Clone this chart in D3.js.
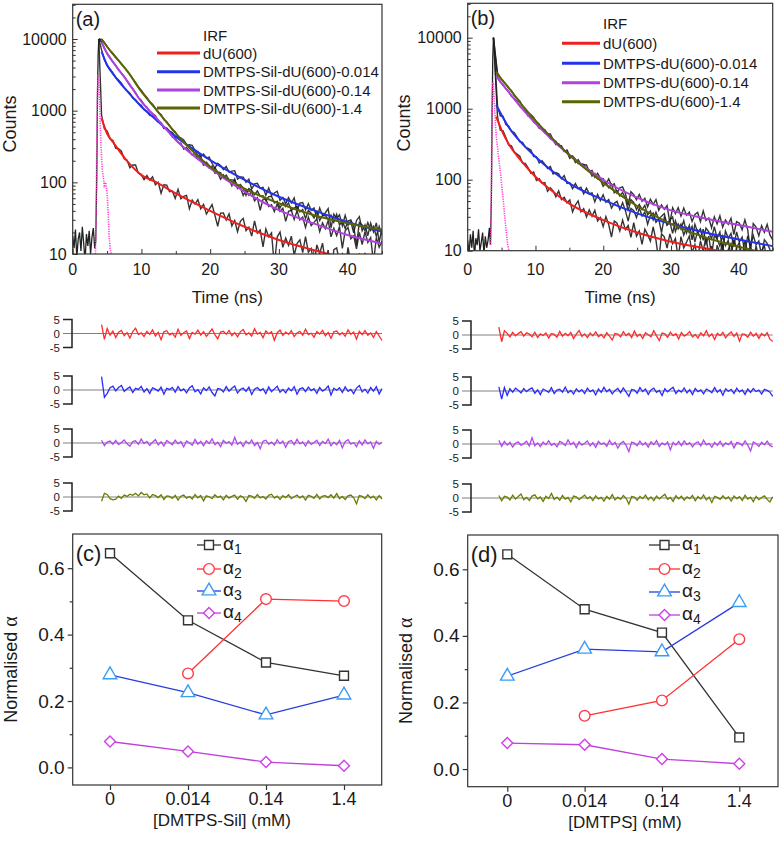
<!DOCTYPE html>
<html><head><meta charset="utf-8">
<script src="https://cdn.jsdelivr.net/npm/d3@7"></script>
<style>
body{margin:0;background:#fff}
text{font-family:'Liberation Sans',Arial,sans-serif;fill:#1a1a1a}
</style></head>
<body><svg id="fig" width="784" height="842"></svg>
<script>
// ---------------- DATA ----------------
const fitTimes = [4.2,5,6,8,10,12,15,20,25,30,35,40,45];
// panel (a) fitted decays (counts)
const fitA_dU    = [780,480,350,194,126,102,70,40,24,15.7,11.4,8.6,6.8];
const fitA_S0014 = [6650,4340,3140,1840,1135,766,434,204,108,63,41,28,20.5];
const fitA_S014  = [9000,6300,4570,2540,1334,824,390,157,74,41,26.8,18.4,14];
const fitA_S14   = [10000,7800,5980,3500,1840,1080,483,165,82,51,35,26.8,21.6];
// panel (b) fitted decays (counts)
const fitB_dU    = [771,500,324,180,110,75,46,27,18,13.4,10.8,8.8,7.4];
const fitB_D0014 = [1127,815,557,325,211,144,89,52,33.6,23.8,18,14.4,11.6];
const fitB_D014  = [2880,2275,1740,1011,621,403,223,99,56,37,28.5,23,18.5];
const fitB_D14   = [3330,2590,2000,1127,678,425,223,91,42.6,23.8,15.4,11.4,8.6];
const legendA = ["dU(600)","DMTPS-Sil-dU(600)-0.014","DMTPS-Sil-dU(600)-0.14","DMTPS-Sil-dU(600)-1.4"];
const legendB = ["dU(600)","DMTPS-dU(600)-0.014","DMTPS-dU(600)-0.14","DMTPS-dU(600)-1.4"];
// instrument response function (IRF)
const irfA_t = [3.3,3.4,3.5,3.6,3.7,3.8,3.9,4.0,4.1,4.2,4.3,4.45,4.6,4.8,5.0,5.15,5.3,5.45,5.6];
const irfA_v = [10,40,300,1800,3200,2600,1500,700,350,220,150,120,90,100,70,40,18,12,10];
const irfB_t = [3.4,3.5,3.6,3.7,3.8,3.9,4.0,4.1,4.2,4.35,4.5,4.7,4.9,5.1,5.3,5.5,5.7,5.9,6.1];
const irfB_v = [12,120,900,2400,2200,1400,900,600,420,320,230,160,110,70,45,28,18,12,10];
// baseline + rise of the measured decays before the peak
const riseTimes = [0,0.2,0.4,0.6,0.8,1.0,1.2,1.4,1.6,1.8,2.0,2.2,2.4,2.6,2.8,3.0,3.2,3.35,3.5,3.6,3.7,3.8];
const riseA = [18,12,22,9,16,20,11,24,14,8,19,13,21,10,17,23,12,15,120,1500,6000,10000];
const riseB = [14,9,17,11,19,8,15,12,20,10,13,18,9,16,11,14,21,12,60,900,5200,10000];
// weighted residuals, one per decay
const resA_dU = [3.2,-2.1,1.8,-0.6,0.9,-1.4,0.5,1.1,-0.8,0.3,-1.6,0.7,1.9,-0.4,0.2,-1.1,0.8,-0.3,1.3,-0.9,0.4,-2.2,0.6,1.0,-0.5,0.1,-1.3,1.5,-0.7,0.3,0.9,-1.8,0.4,-0.2,1.2,-0.6,0.7,-1.0,0.2,1.6,-0.4,-1.9,0.5,0.8,-0.3,1.1,-0.8,0.3,-1.2,0.6,1.4,-0.5,0.2,-0.9,1.7,-0.2,0.4,-1.5,0.9,-0.1,0.6,-2.4,0.3,1.2,-0.7,0.5,-0.3,1.0,-1.1,0.2,0.8,-0.6,1.5,-0.4,0.1,-1.3,0.7,-0.2,1.1,-0.8,0.4,-1.7,0.6,0.9,-0.5,0.3,-1.0,1.3,-0.3,0.5,-2.0,0.8,-0.4,1.0,-0.6,0.2,-1.4,0.7,-0.9,-2.5];
const resA_S0014 = [4.8,-2.6,-1.2,0.8,1.4,-0.3,0.9,1.6,-0.5,0.4,1.1,-0.9,0.6,0.2,1.3,-0.7,0.5,-1.2,0.8,0.3,-0.4,1.0,-1.5,0.6,0.2,0.9,-0.8,1.2,-0.3,0.4,-1.0,0.7,1.5,-0.6,0.1,-1.4,0.8,-0.2,1.1,-0.9,-2.1,0.5,0.3,-0.7,1.2,-0.4,0.6,1.4,-1.1,0.2,0.7,-0.5,1.0,-1.6,0.3,0.9,-0.2,0.5,-1.3,1.1,-0.6,0.4,1.3,-0.8,0.2,-1.0,0.7,-0.3,1.2,-1.5,0.4,0.8,-0.6,1.0,-0.2,0.5,-1.2,0.9,-0.4,0.3,1.4,-1.8,0.6,-0.1,0.8,-0.9,1.1,-0.5,0.2,-1.3,0.7,1.6,-0.7,0.3,-1.1,0.9,-0.4,1.2,-1.4,0.5];
const resA_S014 = [1.0,-0.9,0.3,0.7,-0.4,0.9,-0.6,0.2,1.1,-0.3,-1.2,0.5,0.8,-0.5,1.4,-0.2,0.6,-0.9,0.3,1.2,-0.7,0.4,-1.1,0.9,0.2,-0.6,1.0,-0.3,0.5,-1.4,0.7,0.1,-0.8,1.3,-0.4,0.6,-1.0,0.8,-0.2,1.5,-0.6,0.3,-1.3,0.9,-0.1,0.5,-0.8,2.0,-0.5,0.4,-1.2,0.7,-0.3,1.1,-0.9,0.2,-2.1,0.6,1.0,-0.4,0.3,-0.8,1.2,-0.2,0.7,-1.5,0.5,0.9,-0.6,1.3,-0.3,0.4,-1.1,0.8,-0.5,0.2,1.0,-0.9,0.6,-0.2,1.4,-1.0,0.3,-0.6,0.9,-1.7,0.5,1.2,-0.4,0.1,-1.3,0.8,-0.7,1.1,-0.3,0.4,-1.9,0.6,-0.5,0.3];
const resA_S14 = [-1.5,1.3,0.9,-0.6,-1.0,-0.8,0.3,-0.5,0.7,0.2,1.0,0.6,1.3,0.4,1.6,0.8,1.1,-0.3,0.9,0.5,-0.2,0.8,-0.9,0.4,0.2,-0.5,0.6,-1.1,0.3,0.7,-0.4,0.2,-0.7,0.9,-0.3,0.5,-1.4,0.4,0.1,-0.6,0.8,-0.2,0.3,-1.0,0.6,-0.4,0.2,0.7,-0.8,0.4,-0.1,-1.6,0.5,0.3,-0.5,0.9,-0.3,0.2,-0.7,0.6,1.0,-0.4,0.3,-0.9,0.5,-0.2,0.8,-0.6,0.1,0.7,-0.3,0.4,-1.1,0.6,0.2,-0.5,0.9,-0.7,0.3,0.5,-0.2,0.8,-0.4,1.2,-0.6,0.2,-0.9,0.4,0.7,-0.3,-2.4,0.5,0.2,-0.6,0.8,-0.4,0.3,-1.0,0.5,-0.7];
const resB_dU = [2.8,-2.4,1.5,0.6,-0.7,0.9,-0.3,0.5,1.2,-0.4,0.8,0.3,-0.6,1.0,-0.9,0.4,-0.2,0.7,-1.1,0.5,0.2,-0.8,1.3,-0.4,0.6,-0.2,0.9,-1.3,0.3,1.6,-0.5,0.4,-0.9,0.7,-0.3,1.1,-0.6,0.2,-1.0,0.8,-0.4,-1.8,0.5,0.3,-0.7,1.2,-0.2,0.6,-0.9,1.4,-0.5,0.3,-1.2,0.8,0.1,-0.6,1.5,-0.3,-2.0,0.7,0.4,-0.8,1.0,-0.2,0.5,-1.4,0.9,-0.4,0.3,1.2,-0.7,0.2,-1.1,0.8,-0.3,1.5,-0.6,0.4,-1.6,0.6,-0.2,0.9,-1.0,0.3,1.1,-0.5,0.7,-2.2,0.4,0.2,-0.8,1.0,-0.4,0.6,-1.2,0.5,-0.3,0.8,-1.5,-2.3];
const resB_D0014 = [1.5,-2.9,1.2,-1.6,0.8,-0.4,1.0,0.3,-0.7,0.9,-0.2,0.6,1.1,-0.8,0.4,-1.3,0.7,0.2,-0.5,1.2,-0.9,0.3,0.6,-0.4,1.4,-0.6,0.2,-1.1,0.8,-0.3,0.5,-0.9,1.0,-0.2,0.4,-1.4,0.7,-0.5,1.3,-0.3,0.6,-1.0,0.2,0.9,-0.6,1.1,-0.4,-1.9,0.5,0.3,-0.8,1.2,-0.2,0.7,-1.2,0.4,1.0,-0.5,0.2,-1.6,0.8,-0.3,0.6,1.3,-0.9,0.3,-0.4,1.1,-0.7,0.5,-1.3,0.9,-0.2,0.4,-1.0,0.7,0.2,-0.6,1.2,-0.4,0.5,-1.5,0.8,-0.1,0.6,-0.9,1.0,-0.3,0.4,-1.2,0.7,-0.5,0.9,-0.2,0.3,-1.1,0.6,0.2,-0.4,-1.9];
const resB_D014 = [1.3,-0.8,0.9,-0.4,0.6,-1.1,0.3,0.8,-0.5,0.2,1.0,-0.7,2.2,-0.6,0.4,-0.9,0.7,-0.3,1.2,-0.5,0.2,-1.0,0.9,0.4,-0.6,1.5,-0.2,0.6,-1.3,0.8,-0.4,0.3,1.1,-0.7,0.5,-1.2,0.9,-0.1,0.4,-0.8,1.3,-0.3,0.6,-1.5,0.2,0.9,-0.5,-2.7,0.7,0.3,-0.6,1.0,-0.4,0.5,-1.1,0.8,-0.2,1.2,-0.9,0.4,-0.3,0.7,-2.1,0.6,-0.4,0.9,-0.6,1.1,-0.2,0.5,-1.0,0.3,0.8,-0.7,1.4,-0.3,0.2,-1.2,0.6,-0.5,1.0,-0.8,0.4,-0.2,0.9,-1.4,0.5,0.3,-0.6,1.1,-0.4,-2.5,0.7,0.2,-0.9,0.6,-0.3,1.0,-0.5,-1.0];
const resB_D14 = [0.9,-1.0,0.6,0.3,-0.7,1.0,-0.4,0.5,1.4,-0.6,0.2,-0.9,0.7,1.1,-0.3,0.4,-1.2,0.6,-0.2,1.6,-0.5,0.3,-0.8,0.9,-0.4,0.2,-1.4,0.7,0.4,-0.6,0.3,1.0,-0.2,0.5,-0.9,0.8,-0.3,0.2,-1.1,0.6,-0.4,1.2,-0.7,0.3,-0.5,0.9,-0.1,-2.2,0.5,0.3,-0.8,0.6,-0.2,1.0,-0.6,0.4,-0.9,0.7,-0.3,0.5,1.3,-0.5,0.2,-1.2,0.8,-0.3,0.6,-0.8,0.4,-0.2,0.9,-1.0,0.5,-0.4,1.1,-0.7,0.3,-1.6,0.6,0.2,-0.5,0.8,-0.3,0.4,-1.1,0.7,-0.2,0.5,-0.9,1.0,-0.4,0.3,-1.3,0.6,-0.6,0.2,0.8,-0.5,-1.4,0.4];
// normalised amplitudes
const concCats = ["0","0.014","0.14","1.4"];
const alphaNames = ["1","2","3","4"];
const c_a1 = [0.645,0.443,0.316,0.276];
const c_a2 = [null,0.283,0.507,0.501];
const c_a3 = [0.279,0.225,0.158,0.218];
const c_a4 = [0.078,0.048,0.016,0.005];
const d_a1 = [0.645,0.480,0.410,0.095];
const d_a2 = [null,0.160,0.206,0.390];
const d_a3 = [0.279,0.360,0.352,0.500];
const d_a4 = [0.078,0.073,0.030,0.016];
const countTicks = [10,100,1000,10000];
const timeTicks = [0,10,20,30,40];
const resTicks = [5,0,-5];
const alphaTicks = [0.0,0.2,0.4,0.6];

// ---------------- STYLE ----------------
const decayCols = ["#f01e1e","#2233ee","#b040e0","#5a6400"];
const resCols   = ["#ff2a2a","#2a2aff","#b545ee","#6b7d00"];
const alphaLine = ["#333333","#ff3030","#2a3ce0","#c040dd"];
const alphaMark = ["#333333","#ff3c4c","#3c9cf0","#d040e8"];

const svg = d3.select("#fig");

function fitAt(vals, t){
  if (t <= fitTimes[0]) return vals[0];
  for (let i=1;i<fitTimes.length;i++){
    if (t <= fitTimes[i]){
      const f=(t-fitTimes[i-1])/(fitTimes[i]-fitTimes[i-1]);
      return Math.exp(Math.log(vals[i-1])*(1-f)+Math.log(vals[i])*f);
    }
  }
  return vals[vals.length-1];
}

function decayPanel(cfg){
  const g = svg.append("g");
  const x = d3.scaleLinear([0,45],[cfg.x0,cfg.x1]);
  const y = d3.scaleLog([10,30500],[cfg.y0,cfg.y1]);
  const cid = "clip"+cfg.id;
  svg.append("clipPath").attr("id",cid).append("rect")
    .attr("x",cfg.x0).attr("y",cfg.y1).attr("width",cfg.x1-cfg.x0).attr("height",cfg.y0-cfg.y1);
  const pg = g.append("g").attr("clip-path",`url(#${cid})`);
  const line = d3.line().x(d=>x(d[0])).y(d=>y(Math.max(d[1],2)));
  // measured data (black, noisy)
  pg.append("path").datum(riseTimes.map((t,i)=>[t,cfg.rise[i]]))
    .attr("d",line).attr("fill","none").attr("stroke","#222").attr("stroke-width",1.3);
  cfg.fits.forEach((vals,k)=>{
    const res = cfg.res[k];
    const t0 = cfg.resStart, n = res.length;
    const pts = [[3.8,10000]].concat(res.map((r,i)=>{
      const t = t0 + i*(45-t0)/(n-1);
      const f = fitAt(vals,t);
      return [t, f + r*Math.sqrt(f)*1.0];
    }));
    pg.append("path").datum(pts).attr("d",line).attr("fill","none")
      .attr("stroke","#1e1e1e").attr("stroke-width",1.4).attr("opacity",0.9);
  });
  // IRF
  pg.append("path").datum(cfg.irfT.map((t,i)=>[t,cfg.irfV[i]])).attr("d",line)
    .attr("fill","none").attr("stroke","#ff3fd0").attr("stroke-width",1.6).attr("stroke-dasharray","1.2,1.2");
  // fits
  const fline = d3.line().curve(d3.curveMonotoneX).x(d=>x(d[0])).y(d=>y(d[1]));
  cfg.fits.forEach((vals,k)=>{
    pg.append("path").datum(fitTimes.map((t,i)=>[t,vals[i]])).attr("d",fline)
      .attr("fill","none").attr("stroke",decayCols[k]).attr("stroke-width",2);
  });
  // frame
  g.append("rect").attr("x",cfg.x0).attr("y",cfg.y1).attr("width",cfg.x1-cfg.x0).attr("height",cfg.y0-cfg.y1)
    .attr("fill","none").attr("stroke","#333").attr("stroke-width",1.2);
  // axes (ticks inside)
  const ax = g.append("g").attr("transform",`translate(0,${cfg.y0})`)
    .call(d3.axisBottom(x).tickValues(timeTicks).tickSize(-5).tickFormat(""));
  const axm = g.append("g").attr("transform",`translate(0,${cfg.y0})`)
    .call(d3.axisBottom(x).tickValues([5,15,25,35,45]).tickSize(-3).tickFormat(""));
  const ay = g.append("g").attr("transform",`translate(${cfg.x0},0)`)
    .call(d3.axisLeft(y).tickValues(countTicks).tickSize(-5).tickFormat(""));
  const minor = [];
  [10,100,1000,10000].forEach(b=>{for(let m=2;m<=9;m++){ if(b*m<30500) minor.push(b*m);}});
  const aym = g.append("g").attr("transform",`translate(${cfg.x0},0)`)
    .call(d3.axisLeft(y).tickValues(minor).tickSize(-3).tickFormat(""));
  [ax,axm,ay,aym].forEach(a=>{a.select(".domain").remove(); a.selectAll("line").attr("stroke","#333");});
  // tick labels
  g.selectAll(".tx").data(timeTicks).join("text").attr("x",d=>x(d)).attr("y",cfg.tickLabY)
    .attr("text-anchor","middle").attr("font-size",16).text(d=>d);
  g.selectAll(".ty").data(countTicks).join("text").attr("x",cfg.x0-6).attr("y",d=>y(d)+5.5)
    .attr("text-anchor","end").attr("font-size",16).text(d=>d);
  g.append("text").attr("x",(cfg.x0+cfg.x1)/2).attr("y",cfg.titleY).attr("text-anchor","middle")
    .attr("font-size",17).text("Time (ns)");
  g.append("text").attr("transform",`translate(${cfg.countsX},${cfg.countsY}) rotate(-90)`)
    .attr("text-anchor","middle").attr("font-size",18).text("Counts");
  g.append("text").attr("x",cfg.x0+3).attr("y",cfg.y1+22).attr("font-size",20).text(cfg.tag);
  // legend
  const lg = g.append("g");
  lg.append("text").attr("x",cfg.legX+3).attr("y",cfg.legY[0]+5.5).attr("font-size",15).text("IRF");
  cfg.names.forEach((nm,k)=>{
    const yy = cfg.legY[k+1];
    lg.append("line").attr("x1",cfg.legL0).attr("x2",cfg.legX).attr("y1",yy).attr("y2",yy)
      .attr("stroke",decayCols[k]).attr("stroke-width",3);
    lg.append("text").attr("x",cfg.legX+3).attr("y",yy+5.5).attr("font-size",15).text(nm);
  });
  return x;
}

function residualPanel(x, cfg){
  cfg.res.forEach((res,k)=>{
    const z = cfg.zeros[k];
    const ry = d3.scaleLinear([-5,5],[z+14,z-14]);
    const g = svg.append("g");
    g.append("line").attr("x1",cfg.axX-9).attr("x2",cfg.x1).attr("y1",z).attr("y2",z)
      .attr("stroke","#808080").attr("stroke-width",1.2);
    g.append("path").attr("d",`M${cfg.axX-9},${ry(5)}H${cfg.axX}V${ry(-5)}H${cfg.axX-9}`)
      .attr("fill","none").attr("stroke","#222").attr("stroke-width",1.5);
    resTicks.forEach(v=>{
      g.append("text").attr("x",cfg.axX-12).attr("y",ry(v)+4.2).attr("text-anchor","end")
        .attr("font-size",11.5).text(v);
    });
    const t0 = cfg.resStart, n = res.length;
    const pts = res.map((r,i)=>[t0 + i*(45-t0)/(n-1), r]);
    g.append("path").datum(pts).attr("d",d3.line().x(d=>x(d[0])).y(d=>ry(d[1])))
      .attr("fill","none").attr("stroke",resCols[k]).attr("stroke-width",1.3);
  });
}

const xA = decayPanel({id:"a",tag:"(a)",x0:72.7,x1:382,y0:254,y1:4.3,tickLabY:275,titleY:303,countsX:16,countsY:124,
  fits:[fitA_dU,fitA_S0014,fitA_S014,fitA_S14],res:[resA_dU,resA_S0014,resA_S014,resA_S14],resStart:4.2,
  rise:riseA,irfT:irfA_t,irfV:irfA_v,names:legendA,legL0:157,legX:200,legY:[35,53,71.7,90,108]});
const xB = decayPanel({id:"b",tag:"(b)",x0:467.7,x1:772.7,y0:250.7,y1:3.3,tickLabY:275,titleY:303,countsX:410,countsY:123,
  fits:[fitB_dU,fitB_D0014,fitB_D014,fitB_D14],res:[resB_dU,resB_D0014,resB_D014,resB_D14],resStart:4.4,
  rise:riseB,irfT:irfB_t,irfV:irfB_v,names:legendB,legL0:562,legX:600,legY:[23.3,43.3,63.3,82.7,101.7]});

residualPanel(xA,{res:[resA_dU,resA_S0014,resA_S014,resA_S14],resStart:4.2,zeros:[333.5,390,443,497],axX:72,x1:382});
residualPanel(xB,{res:[resB_dU,resB_D0014,resB_D014,resB_D14],resStart:4.6,zeros:[335,391,444,498],axX:471,x1:772.7});

function alphaPanel(cfg){
  const g = svg.append("g");
  const x = d3.scalePoint(concCats,[cfg.px0,cfg.px1]);
  const y = d3.scaleLinear([-0.053,0.703],[cfg.y0,cfg.y1]);
  g.append("rect").attr("x",cfg.x0).attr("y",cfg.y1).attr("width",cfg.x1-cfg.x0).attr("height",cfg.y0-cfg.y1)
    .attr("fill","none").attr("stroke","#333").attr("stroke-width",1.2);
  const ax = g.append("g").attr("transform",`translate(0,${cfg.y0})`)
    .call(d3.axisBottom(x).tickSize(5).tickFormat(""));
  const ay = g.append("g").attr("transform",`translate(${cfg.x0},0)`)
    .call(d3.axisLeft(y).tickValues(alphaTicks).tickSize(5).tickFormat(""));
  const aym = g.append("g").attr("transform",`translate(${cfg.x0},0)`)
    .call(d3.axisLeft(y).tickValues([0.1,0.3,0.5]).tickSize(3).tickFormat(""));
  [ax,ay,aym].forEach(a=>{a.select(".domain").remove(); a.selectAll("line").attr("stroke","#333").attr("stroke-width",1.2);});
  g.selectAll(".lx").data(concCats).join("text").attr("x",d=>x(d)).attr("y",cfg.y0+20)
    .attr("text-anchor","middle").attr("font-size",18).text(d=>d);
  g.selectAll(".ly").data(alphaTicks).join("text").attr("x",cfg.x0-8).attr("y",d=>y(d)+6.5)
    .attr("text-anchor","end").attr("font-size",19).text(d=>d.toFixed(1));
  g.append("text").attr("x",cfg.titleX).attr("y",cfg.y0+41).attr("text-anchor","middle")
    .attr("font-size",17).text(cfg.title);
  const yl = g.append("text").attr("transform",`translate(${cfg.x0-56},${(cfg.y0+cfg.y1)/2+10}) rotate(-90)`)
    .attr("text-anchor","middle").attr("font-size",18);
  yl.append("tspan").text("Normalised ");
  yl.append("tspan").attr("font-family","'Liberation Serif','Times New Roman',serif").attr("font-size",20).text("α");
  g.append("text").attr("x",cfg.x0+3).attr("y",cfg.y1+27).attr("font-size",22).text(cfg.tag);
  const sym = [d3.symbol(d3.symbolSquare,80), d3.symbol(d3.symbolCircle,90), d3.symbol(d3.symbolTriangle,80), d3.symbol(d3.symbolSquare,60)];
  const rot = [0,0,0,45];
  cfg.series.forEach((vals,k)=>{
    const pts = vals.map((v,i)=>[concCats[i],v]).filter(d=>d[1]!==null);
    g.append("path").datum(pts).attr("d",d3.line().x(d=>x(d[0])).y(d=>y(d[1])))
      .attr("fill","none").attr("stroke",alphaLine[k]).attr("stroke-width",1.3);
    g.selectAll(null).data(pts).join("path").attr("d",sym[k])
      .attr("transform",d=>`translate(${x(d[0])},${y(d[1])}) rotate(${rot[k]})`)
      .attr("fill","#fff").attr("stroke",alphaMark[k]).attr("stroke-width",1.4);
  });
  // legend
  cfg.series.forEach((vals,k)=>{
    const yy = cfg.legY[k];
    g.append("line").attr("x1",cfg.legL0).attr("x2",cfg.legL1).attr("y1",yy).attr("y2",yy)
      .attr("stroke",alphaLine[k]).attr("stroke-width",1.3);
    g.append("path").attr("d",sym[k]).attr("transform",`translate(${(cfg.legL0+cfg.legL1)/2},${yy}) rotate(${rot[k]})`)
      .attr("fill","#fff").attr("stroke",alphaMark[k]).attr("stroke-width",1.4);
    const t = g.append("text").attr("x",cfg.legL1+2).attr("y",yy+5)
      .attr("font-family","'Liberation Serif','Times New Roman',serif").attr("font-size",19);
    t.append("tspan").text("α");
    t.append("tspan").attr("dy",4).attr("font-size",14).text(alphaNames[k]);
  });
}

alphaPanel({tag:"(c)",x0:72.7,x1:381.7,y0:785,y1:534,px0:110,px1:344,title:"[DMTPS-Sil] (mM)",titleX:222,
  series:[c_a1,c_a2,c_a3,c_a4],legY:[545,569,591,613],legL0:197,legL1:221});
alphaPanel({tag:"(d)",x0:467.7,x1:778,y0:786.7,y1:535,px0:507.3,px1:739.3,title:"[DMTPS] (mM)",titleX:625,
  series:[d_a1,d_a2,d_a3,d_a4],legY:[545,569,592,615],legL0:649,legL1:680});
</script></body></html>
